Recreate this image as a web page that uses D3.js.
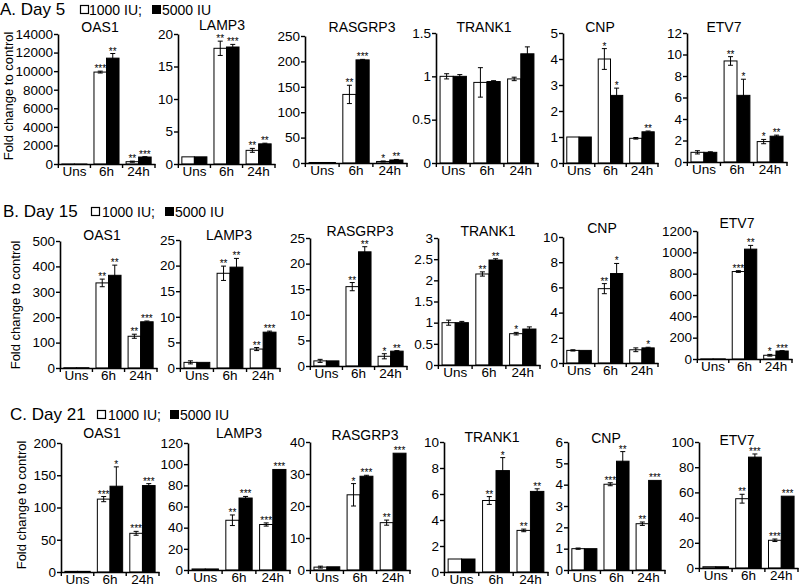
<!DOCTYPE html>
<html>
<head>
<meta charset="utf-8">
<script src="https://cdn.jsdelivr.net/npm/d3@7"></script>
<style>
  body { margin: 0; background: #fff; }
  svg { font-family: "Liberation Sans", Arial, sans-serif; }
</style>
</head>
<body>
<svg id="fig" width="800" height="586"></svg>
<script>
const genes = ["OAS1", "LAMP3", "RASGRP3", "TRANK1", "CNP", "ETV7"];
const times = ["Uns", "6h", "24h"];
const doses = ["1000 IU;", "5000 IU"];

// Day 5
const day5Max = [14000, 20, 250, 1.5, 5, 12];
const day5Step = [2000, 5, 50, 0.5, 1, 2];
const day5Low = [[1, 9900, 250], [1.1, 17.8, 2.1], [1, 135, 3], [1.0, 0.93, 0.97], [1, 4.0, 0.95], [0.9, 9.4, 1.9]];
const day5LowErr = [[0, 100, 60], [0, 1.1, 0.3], [0, 18, 1], [0.03, 0.17, 0.02], [0, 0.4, 0.03], [0.15, 0.4, 0.2]];
const day5High = [[1, 11400, 750], [1.1, 18, 3.1], [1, 203, 6], [1.0, 0.94, 1.26], [1, 2.6, 1.2], [0.9, 6.2, 2.4]];
const day5HighErr = [[0, 500, 40], [0, 0.4, 0.1], [0, 1, 1], [0.02, 0.01, 0.08], [0, 0.28, 0.03], [0.05, 1.5, 0.1]];
const day5LowStars = [["", "***", "**"], ["", "**", "**"], ["", "**", "*"], ["", "", ""], ["", "*", ""], ["", "**", "*"]];
const day5HighStars = [["", "**", "***"], ["", "***", "**"], ["", "***", "**"], ["", "", ""], ["", "*", "**"], ["", "*", "**"]];

// Day 15
const day15Max = [500, 25, 25, 3, 10, 1200];
const day15Step = [100, 5, 5, 0.5, 2, 200];
const day15Low = [[1, 335, 125], [1.1, 18.5, 3.7], [1.0, 15.5, 1.9], [1.0, 2.15, 0.74], [1.0, 5.9, 1.05], [1, 820, 35]];
const day15LowErr = [[0, 15, 8], [0.3, 1.4, 0.3], [0.3, 0.8, 0.5], [0.06, 0.05, 0.03], [0.05, 0.4, 0.15], [0, 8, 8]];
const day15High = [[1, 365, 182], [1.1, 19.7, 7.0], [1.0, 22.3, 2.9], [1.0, 2.48, 0.85], [1.0, 7.1, 1.2], [1, 1030, 75]];
const day15HighErr = [[0, 40, 3], [0, 1.7, 0.2], [0, 1.0, 0.1], [0.03, 0.03, 0.05], [0, 0.8, 0.05], [0, 35, 3]];
const day15LowStars = [["", "**", "**"], ["", "**", "**"], ["", "**", "*"], ["", "**", "*"], ["", "**", ""], ["", "***", "*"]];
const day15HighStars = [["", "**", "***"], ["", "**", "***"], ["", "**", "**"], ["", "**", ""], ["", "*", "*"], ["", "**", "***"]];

// Day 21
const day21Max = [200, 120, 40, 10, 6, 100];
const day21Step = [50, 20, 10, 2, 1, 20];
const day21Low = [[1, 113, 60], [1, 47, 43], [0.9, 23.5, 14.8], [1.0, 5.5, 3.2], [1.0, 4.02, 2.17], [1, 55, 22]];
const day21LowErr = [[0, 4, 3], [0, 5, 1.5], [0.3, 3.5, 0.8], [0, 0.3, 0.1], [0.03, 0.07, 0.08], [0, 3.5, 1]];
const day21High = [[1, 133, 134], [1, 68, 95], [1.0, 29.3, 36.5], [1.0, 7.8, 6.2], [1.0, 5.1, 4.2], [1, 88, 57]];
const day21HighErr = [[0, 30, 3], [0, 1.5, 0], [0, 0.3, 0], [0, 1.0, 0.2], [0, 0.45, 0], [0, 2.5, 0]];
const day21LowStars = [["", "***", "***"], ["", "**", "***"], ["", "*", "**"], ["", "**", "**"], ["", "***", "**"], ["", "**", "***"]];
const day21HighStars = [["", "*", "***"], ["", "***", "***"], ["", "***", "***"], ["", "*", "**"], ["", "**", "***"], ["", "***", "***"]];

const rows = [
  {label: "A. Day 5", max: day5Max, step: day5Step, low: day5Low, lowErr: day5LowErr, high: day5High, highErr: day5HighErr, lowStars: day5LowStars, highStars: day5HighStars,
   head: {x: 0, y: 15, sq1: 80, t1: 89, sq2: 152, t2: 162, sqY: 5},
   ylab: {x: 13, y: 96},
   x0: [58, 178, 305, 436, 563, 687], x1: [155, 275, 407, 538, 658, 787],
   top: [34, 34, 36, 33, 33, 33], bottom: [164, 164, 163, 163, 163, 162],
   titleX: [100, 222, 362, 484, 600, 724], titleY: [32, 30, 32, 32, 32, 32]},
  {label: "B. Day 15", max: day15Max, step: day15Step, low: day15Low, lowErr: day15LowErr, high: day15High, highErr: day15HighErr, lowStars: day15LowStars, highStars: day15HighStars,
   head: {x: 3, y: 217, sq1: 91, t1: 102, sq2: 165, t2: 175, sqY: 207},
   ylab: {x: 20, y: 305},
   x0: [60, 180, 310, 438, 563, 697], x1: [157, 280, 407, 540, 658, 792],
   top: [241, 240, 238, 238, 237, 231], bottom: [368, 368, 366, 365, 363, 359],
   titleX: [102, 229, 360, 488, 602, 737], titleY: [240, 240, 236, 236, 233, 228]},
  {label: "C. Day 21", max: day21Max, step: day21Step, low: day21Low, lowErr: day21LowErr, high: day21High, highErr: day21HighErr, lowStars: day21LowStars, highStars: day21HighStars,
   head: {x: 10, y: 420, sq1: 97, t1: 108, sq2: 170, t2: 180, sqY: 410},
   ylab: {x: 26, y: 505},
   x0: [61, 188, 310, 444, 568, 699], x1: [159, 290, 410, 548, 665, 798],
   top: [443, 443, 442, 442, 442, 442], bottom: [572, 570, 570, 572, 570, 568],
   titleX: [102, 239, 365, 492, 606, 737], titleY: [438, 438, 440, 442, 443, 445]}
];

const svg = d3.select("#fig");
const fmt = d3.format("~g");

rows.forEach(row => {
  // row heading + legend
  svg.append("text").attr("x", row.head.x).attr("y", row.head.y)
    .attr("font-size", 17).text(row.label);
  svg.append("rect").attr("x", row.head.sq1 + 0.5).attr("y", row.head.sqY + 0.5).attr("width", 8).attr("height", 8)
    .attr("fill", "#fff").attr("stroke", "#000").attr("stroke-width", 1.2);
  svg.append("text").attr("x", row.head.t1).attr("y", row.head.y).attr("font-size", 14).text(doses[0]);
  svg.append("rect").attr("x", row.head.sq2).attr("y", row.head.sqY).attr("width", 9).attr("height", 9)
    .attr("fill", "#000");
  svg.append("text").attr("x", row.head.t2).attr("y", row.head.y).attr("font-size", 14).text(doses[1]);

  svg.append("text")
    .attr("transform", `translate(${row.ylab.x},${row.ylab.y}) rotate(-90)`)
    .attr("text-anchor", "middle").attr("font-size", 13)
    .text("Fold change to control");

  genes.forEach((gene, g) => {
    let x = d3.scaleBand().domain(times).range([row.x0[g], row.x1[g]]).paddingInner(0.22).paddingOuter(0.12);
    let y = d3.scaleLinear().domain([0, row.max[g]]).range([row.bottom[g], row.top[g]]);
    let panel = svg.append("g");
    let bw = x.bandwidth() / 2;

    let bars = [];
    times.forEach((t, i) => {
      bars.push({t: t, off: 0, v: row.low[g][i], e: row.lowErr[g][i], s: row.lowStars[g][i], fill: "#fff"});
      bars.push({t: t, off: bw, v: row.high[g][i], e: row.highErr[g][i], s: row.highStars[g][i], fill: "#000"});
    });

    panel.selectAll("rect.bar").data(bars).join("rect")
      .attr("class", "bar")
      .attr("x", d => x(d.t) + d.off)
      .attr("y", d => y(d.v))
      .attr("width", bw)
      .attr("height", d => y(0) - y(d.v))
      .attr("fill", d => d.fill)
      .attr("stroke", "#000").attr("stroke-width", 1);

    // error bars
    let eb = bars.filter(d => d.e > 0);
    panel.selectAll("line.err").data(eb).join("line")
      .attr("class", "err")
      .attr("x1", d => x(d.t) + d.off + bw / 2).attr("x2", d => x(d.t) + d.off + bw / 2)
      .attr("y1", d => y(d.v - d.e)).attr("y2", d => y(d.v + d.e))
      .attr("stroke", "#000").attr("stroke-width", 1);
    panel.selectAll("line.capT").data(eb).join("line")
      .attr("class", "capT")
      .attr("x1", d => x(d.t) + d.off + bw / 2 - 2.5).attr("x2", d => x(d.t) + d.off + bw / 2 + 2.5)
      .attr("y1", d => y(d.v + d.e)).attr("y2", d => y(d.v + d.e))
      .attr("stroke", "#000").attr("stroke-width", 1);
    panel.selectAll("line.capB").data(eb).join("line")
      .attr("class", "capB")
      .attr("x1", d => x(d.t) + d.off + bw / 2 - 2.5).attr("x2", d => x(d.t) + d.off + bw / 2 + 2.5)
      .attr("y1", d => y(d.v - d.e)).attr("y2", d => y(d.v - d.e))
      .attr("stroke", "#000").attr("stroke-width", 1);

    // significance stars
    panel.selectAll("text.star").data(bars.filter(d => d.s)).join("text")
      .attr("class", "star")
      .attr("x", d => x(d.t) + d.off + bw / 2)
      .attr("y", d => y(d.v + d.e) + 1)
      .attr("text-anchor", "middle")
      .attr("font-size", 10).attr("fill", "#000")
      .text(d => d.s);

    // y axis
    let yAxis = d3.axisLeft(y)
      .tickValues(d3.range(0, row.max[g] + row.step[g] / 2, row.step[g]))
      .tickFormat(fmt).tickSize(4).tickSizeOuter(0);
    let ya = panel.append("g").attr("transform", `translate(${row.x0[g]},0)`).call(yAxis);
    ya.select(".domain").attr("stroke-width", 1.6);
    ya.selectAll(".tick line").attr("stroke-width", 1.4);
    ya.selectAll(".tick text").attr("font-size", 13.5).attr("font-family", "Liberation Sans, Arial, sans-serif")
      .attr("fill", "#000").attr("x", -5);

    // x axis
    let xAxis = d3.axisBottom(x).tickSize(0).tickPadding(2);
    let xa = panel.append("g").attr("transform", `translate(0,${y(0)})`).call(xAxis);
    xa.select(".domain").attr("stroke-width", 1.6);
    xa.selectAll(".tick text").attr("font-size", 13.5).attr("font-family", "Liberation Sans, Arial, sans-serif")
      .attr("fill", "#000");
    let step = x.step();
    let bounds = [x(times[0]) - step * x.paddingInner() / 2, x(times[1]) - step * x.paddingInner() / 2,
                  x(times[2]) - step * x.paddingInner() / 2, row.x1[g]];
    panel.selectAll("line.xt").data(bounds).join("line")
      .attr("class", "xt")
      .attr("x1", d => d).attr("x2", d => d)
      .attr("y1", y(0)).attr("y2", y(0) + 4)
      .attr("stroke", "#000").attr("stroke-width", 1.4);

    panel.append("text")
      .attr("x", row.titleX[g]).attr("y", row.titleY[g])
      .attr("text-anchor", "middle").attr("font-size", 14)
      .text(gene);
  });
});
</script>
</body>
</html>
